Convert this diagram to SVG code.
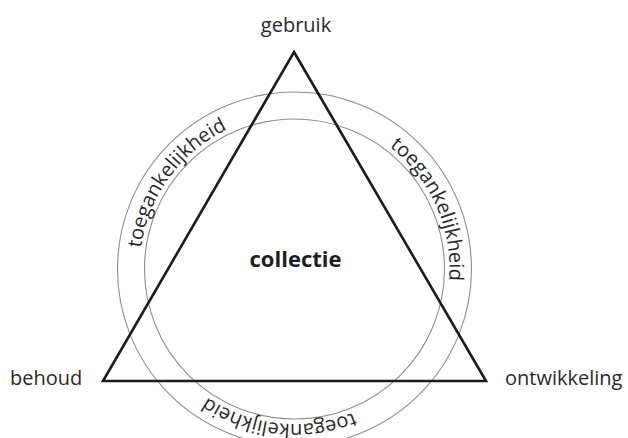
<svg xmlns="http://www.w3.org/2000/svg" xmlns:xlink="http://www.w3.org/1999/xlink" width="628" height="438" viewBox="0 0 628 438">
<style>
.ring{fill:none;stroke:#8e8e8e;stroke-width:1.1}
.tri{fill:none;stroke:#1c1c1c;stroke-width:2.6;stroke-linejoin:miter}
.lbl{font-family:"Open Sans","Noto Sans",sans-serif;font-size:20px;fill:#2a2a2a}
.arc{font-family:"Open Sans","Noto Sans",sans-serif;font-size:20px;fill:#2a2a2a}
.main{font-family:"Open Sans","Noto Sans",sans-serif;font-size:22px;font-weight:bold;fill:#1e1e1e}
</style>
<defs>
<path id="band" d="M413.24,368.63 A155,155 0 0 1 175.76,169.37 A155,155 0 0 1 413.24,368.63"/>
</defs>
<rect width="628" height="438" fill="#ffffff"/>
<g id="rings">
<circle class="ring" cx="294.5" cy="269" r="177"/>
<circle class="ring" cx="294.5" cy="269" r="150"/>
</g>
<g id="connectors">
<polygon class="tri" points="294,52 486,381 103,381"/>
</g>
<g id="band-labels">
<text class="arc" text-anchor="middle"><textPath xlink:href="#band" href="#band" startOffset="151.5">toegankelijkheid</textPath></text>
<text class="arc" text-anchor="middle"><textPath xlink:href="#band" href="#band" startOffset="476.1">toegankelijkheid</textPath></text>
<text class="arc" text-anchor="middle"><textPath xlink:href="#band" href="#band" startOffset="800.7">toegankelijkheid</textPath></text>
</g>
<g id="node-gebruik"><text class="lbl" x="296" y="32" text-anchor="middle">gebruik</text></g>
<g id="node-behoud"><text class="lbl" x="10" y="385">behoud</text></g>
<g id="node-ontwikkeling"><text class="lbl" x="505" y="385">ontwikkeling</text></g>
<g id="node-collectie"><text class="main" x="295.5" y="267" text-anchor="middle">collectie</text></g>
</svg>
